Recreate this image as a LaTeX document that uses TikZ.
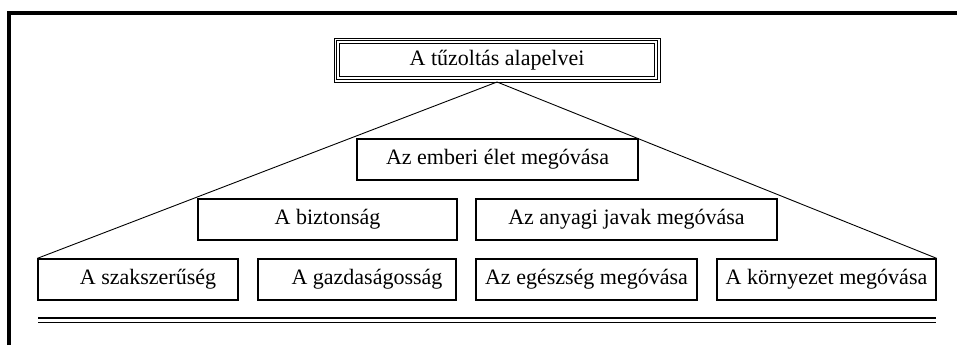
\documentclass[tikz,border=0pt]{standalone}
\usepackage{fontspec}
\setmainfont{Liberation Serif}
\begin{document}
\begin{tikzpicture}[x=1pt,y=-1pt,
  box/.style={draw, line width=1.3pt, inner sep=0pt, font=\fontsize{22}{24}\selectfont},
  conn/.style={line width=0.9pt}]
\useasboundingbox (0,0) rectangle (957,345);
\fill[white] (0,0) rectangle (957,345);
% outer frame
\draw[line width=3.6pt] (9,345) -- (9,13) -- (957,13);
% top box (triple border)
\node[box, line width=0.8pt, minimum width=326pt, minimum height=44pt] (top) at (497,60) {};
\draw[line width=0.8pt] (336.5,40.5) rectangle (657.5,79.5);
\draw[line width=1.3pt] (339.5,43.5) rectangle (654.5,76.5);
\node[font=\fontsize{22}{24}\selectfont] (toptext) at (top.center) {A tűzoltás alapelvei};
\coordinate (apex) at (497,82);
% level boxes
\node[box, minimum width=281pt, minimum height=41pt] (elet) at (497.5,159.5) {Az emberi élet megóvása};
\node[box, minimum width=259pt, minimum height=41pt] (bizt) at (327.5,219.5) {A biztonság};
\node[box, minimum width=301pt, minimum height=41pt] (anyag) at (626.5,219.5) {Az anyagi javak megóvása};
\node[box, minimum width=200pt, minimum height=41pt] (szak) at (138,279.5) {\hspace*{20pt}A szakszerűség};
\node[box, minimum width=198pt, minimum height=41pt] (gazd) at (357,279.5) {\hspace*{20pt}A gazdaságosság};
\node[box, minimum width=221pt, minimum height=41pt] (eg) at (586.5,279.5) {Az egészség megóvása};
\node[box, minimum width=219pt, minimum height=41pt] (korny) at (826.5,279.5) {A környezet megóvása};
% connectors
\draw[conn] (apex) -- (szak.north west);
\draw[conn] (apex) -- (korny.north east);
% bottom double line
\coordinate (dl1) at (38,318);
\coordinate (dr1) at (936,318);
\coordinate (dl2) at (38,322.5);
\coordinate (dr2) at (936,322.5);
\draw[line width=1.8pt] (dl1) -- (dr1);
\draw[line width=1.4pt] (dl2) -- (dr2);
\end{tikzpicture}
\end{document}
